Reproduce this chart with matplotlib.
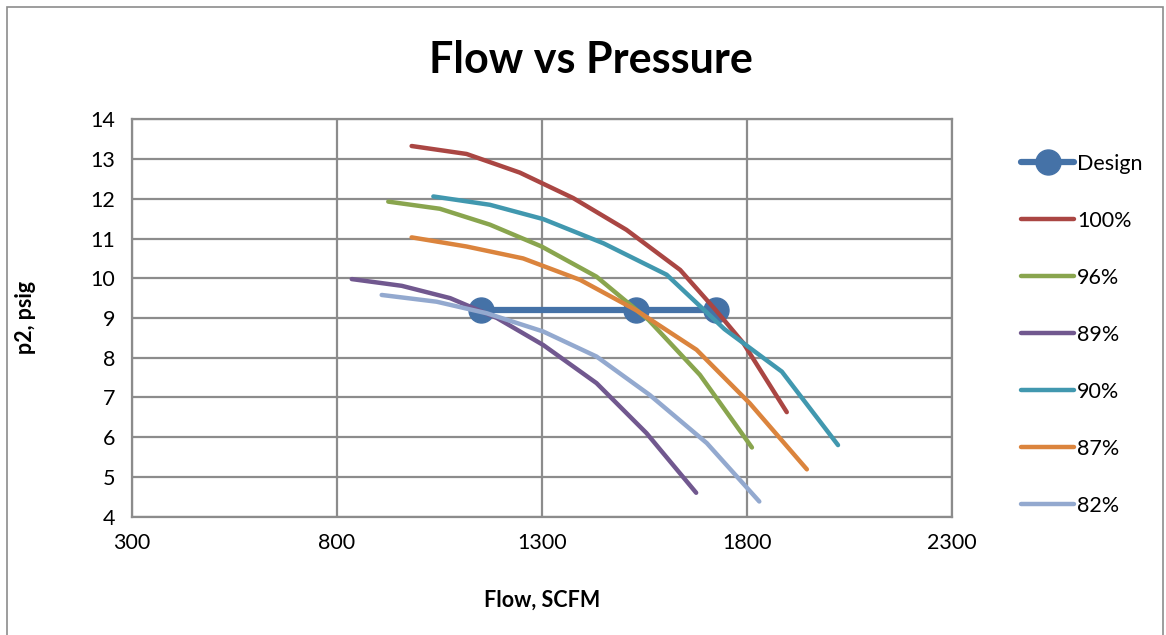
import numpy as np
import matplotlib
matplotlib.use("Agg")
import matplotlib.pyplot as plt
import matplotlib.patches as shapes

plt.rcParams['font.family'] = ['Lato', 'DejaVu Sans']

# design points
design_x = [1151, 1529, 1724]
design_y = [9.2, 9.2, 9.2]

# speed curves (flow SCFM, p2 psig)
flow_100 = [982, 1116, 1246, 1376, 1506, 1637, 1722, 1791, 1897]
p2_100 = [13.33, 13.13, 12.66, 12.02, 11.22, 10.21, 9.22, 8.37, 6.63]

flow_96 = [925, 1051, 1173, 1299, 1433, 1560, 1685, 1812]
p2_96 = [11.93, 11.75, 11.35, 10.8, 10.04, 8.95, 7.57, 5.74]

flow_89 = [836, 958, 1076, 1190, 1303, 1433, 1555, 1676]
p2_89 = [9.98, 9.81, 9.5, 9.0, 8.32, 7.36, 6.1, 4.6]

flow_90 = [1035, 1173, 1303, 1450, 1604, 1745, 1885, 2022]
p2_90 = [12.06, 11.85, 11.49, 10.88, 10.09, 8.72, 7.65, 5.8]

flow_87 = [982, 1116, 1254, 1393, 1529, 1677, 1807, 1946]
p2_87 = [11.03, 10.8, 10.5, 9.96, 9.2, 8.2, 6.85, 5.19]

flow_82 = [909, 1043, 1165, 1303, 1433, 1563, 1702, 1830]
p2_82 = [9.58, 9.41, 9.12, 8.66, 8.03, 7.06, 5.85, 4.38]

curves = [
    ("100%", flow_100, p2_100, "#AA4643"),
    ("96%", flow_96, p2_96, "#89A54E"),
    ("89%", flow_89, p2_89, "#71588F"),
    ("90%", flow_90, p2_90, "#4198AF"),
    ("87%", flow_87, p2_87, "#DB843D"),
    ("82%", flow_82, p2_82, "#93A9CF"),
]

fig = plt.figure(figsize=(11.66, 6.35), dpi=100)
ax = fig.add_axes([132 / 1166, 1 - 516.6 / 635, (952 - 132) / 1166, (516.6 - 119.4) / 635])

# chart border
fig.patches.append(shapes.Rectangle((7 / 1166, -0.01), 1156 / 1166, 1 - 7 / 635 + 0.01,
                                    transform=fig.transFigure, fill=False,
                                    edgecolor="#8c8c8c", linewidth=1.2))

ax.plot(design_x, design_y, color="#4572A7", linewidth=4.5, marker="o",
        markersize=18, label="Design", solid_capstyle="round", zorder=3)
for name, fx, py, col in curves:
    ax.plot(fx, py, color=col, linewidth=3.2, label=name,
            solid_capstyle="round", zorder=4)

ax.set_xlim(300, 2300)
ax.set_ylim(4, 14)
ax.set_xticks(np.arange(300, 2301, 500))
ax.set_yticks(np.arange(4, 15, 1))
ax.grid(True, color="#8c8c8c", linewidth=1.6)
for s in ax.spines.values():
    s.set_color("#8c8c8c")
    s.set_linewidth(1.6)
ax.tick_params(length=0, labelsize=15.5, pad=12)
ax.set_axisbelow(True)

ax.set_xlabel("Flow, SCFM", fontsize=15.5, fontweight="bold")
ax.set_ylabel("p2, psig", fontsize=15.5, fontweight="bold")
ax.xaxis.set_label_coords(0.5, -0.185)
ax.yaxis.set_label_coords(-0.117, 0.5)
fig.text(591 / 1166, 1 - 60 / 635, "Flow vs Pressure", fontsize=31,
         fontweight="bold", ha="center", va="center")

ax.legend(loc="upper left", bbox_to_anchor=(1.074, 0.935), frameon=False,
          fontsize=15.5, labelspacing=1.72, handlelength=2.45, handletextpad=0.15,
          borderaxespad=0)

fig.savefig("out.png", dpi=100)
